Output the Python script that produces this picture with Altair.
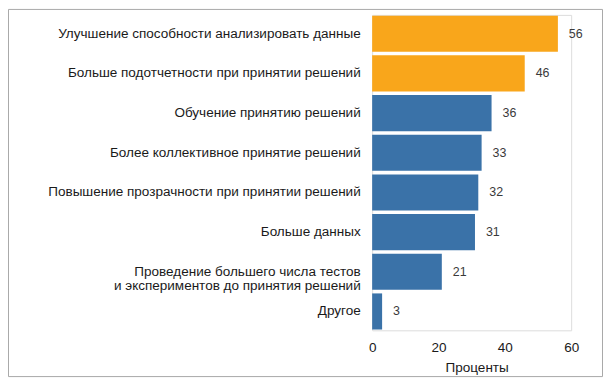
import altair as alt
import pandas as pd

categories = [
    "Улучшение способности анализировать данные",
    "Больше подотчетности при принятии решений",
    "Обучение принятию решений",
    "Более коллективное принятие решений",
    "Повышение прозрачности при принятии решений",
    "Больше данных",
    "Проведение большего числа тестов|и экспериментов до принятия решений",
    "Другое",
]
values = [56, 46, 36, 33, 32, 31, 21, 3]
x_ticks = [0, 20, 40, 60]
x_title = "Проценты"

ORANGE = "#F9A61B"
BLUE = "#3A72A8"
FONT = "Liberation Sans"

df = pd.DataFrame({"cat": categories, "val": values})

W, H = 200, 317

base = alt.Chart(df).encode(
    y=alt.Y(
        "cat:N",
        sort=None,
        title=None,
        scale=alt.Scale(paddingInner=0.09, paddingOuter=0.02),
        axis=alt.Axis(
            labelExpr="split(datum.label, '|')",
            labelFont=FONT,
            labelFontSize=13.6,
            labelColor="#1a1a1a",
            labelLineHeight=14.5,
            labelPadding=12,
            labelLimit=400,
            ticks=False,
            domain=False,
            grid=False,
        ),
    )
)

bars = base.mark_bar().encode(
    x=alt.X(
        "val:Q",
        scale=alt.Scale(domain=[0, 60], nice=False),
        title=x_title,
        axis=alt.Axis(
            values=x_ticks,
            labelFlush=False,
            labelFont=FONT,
            labelFontSize=13.6,
            labelColor="#1a1a1a",
            labelPadding=10,
            ticks=False,
            tickSize=0,
            domain=False,
            grid=False,
            titleFont=FONT,
            titleFontSize=13.6,
            titleFontWeight="normal",
            titleColor="#1a1a1a",
            titlePadding=7,
            titleX=105,
        ),
    ),
    color=alt.condition(alt.datum.val >= 40, alt.value(ORANGE), alt.value(BLUE)),
)

labels = base.mark_text(
    align="left", baseline="middle", dx=11, font=FONT, fontSize=12.5, color="#3a3a3a"
).encode(x="val:Q", text="val:Q")

frame = (
    alt.Chart(pd.DataFrame({"k": [0]}))
    .mark_rect(fillOpacity=0, stroke="#a8a8a8", strokeWidth=1)
    .encode(
        x=alt.value(-365.5),
        x2=alt.value(231.5),
        y=alt.value(-5.5),
        y2=alt.value(363.5),
    )
)

chart = (
    alt.layer(bars, labels, frame)
    .properties(
        width=W,
        height=H,
        autosize=alt.AutoSizeParams(type="none"),
        padding={"left": 366, "top": 6, "right": 32, "bottom": 49},
    )
    .configure_view(stroke=None)
    .configure(background="white")
)

chart.save("out.html", embed_options={"renderer": "svg", "actions": False})
